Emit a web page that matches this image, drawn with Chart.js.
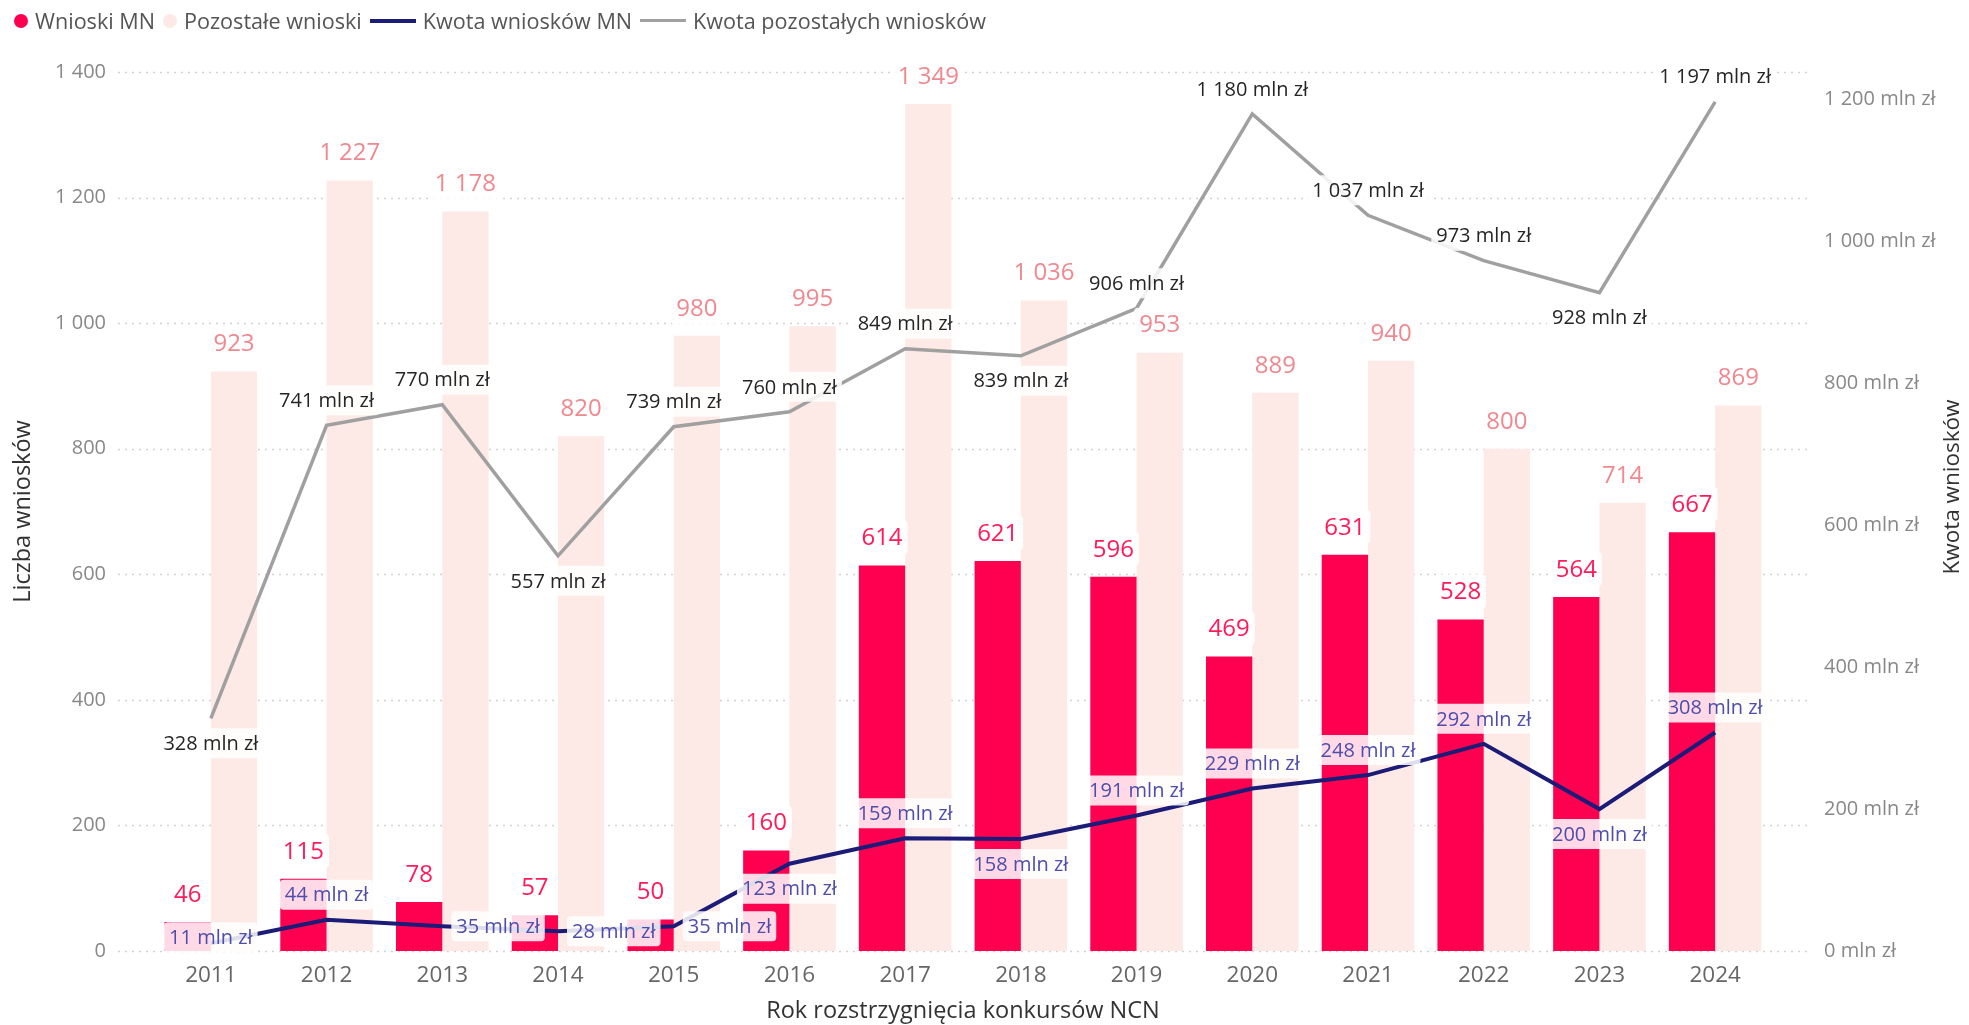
<!DOCTYPE html>
<html lang="pl">

<head>
    <meta charset="UTF-8">
    <title>Wnioski MN</title>
    <style>
        body { margin: 0; background: #fff; }
        .wrap { position: relative; width: 1969px; height: 1025px; }
        .legend {
            position: absolute; left: 14px; top: 6px; display: flex; align-items: center;
            font-family: "Segoe UI", "Open Sans", sans-serif; font-size: 21.6px; color: #555;
        }
        .legend .item { display: flex; align-items: center; margin-right: 8px; }
        .legend .dot { width: 14px; height: 14px; border-radius: 50%; margin-right: 7px; }
        .legend .ln { width: 46px; height: 4px; margin-right: 7px; }
    </style>
</head>

<body>
    <div class="wrap">
        <div class="legend">
            <span class="item"><span class="dot" style="background:#ff0050"></span>Wnioski MN</span>
            <span class="item"><span class="dot" style="background:#fde9e6"></span>Pozostałe wnioski</span>
            <span class="item"><span class="ln" style="background:#1b1b78"></span>Kwota wniosków MN</span>
            <span class="item"><span class="ln" style="background:#a0a0a0;height:3px"></span>Kwota pozostałych wniosków</span>
        </div>
        <canvas id="chart" width="1969" height="1025"></canvas>
    </div>

    <script src="https://cdn.jsdelivr.net/npm/chart.js"></script>
    <script>
        const years = ['2011', '2012', '2013', '2014', '2015', '2016', '2017', '2018', '2019', '2020', '2021', '2022', '2023', '2024'];
        const wnioskiMN = [46, 115, 78, 57, 50, 160, 614, 621, 596, 469, 631, 528, 564, 667];
        const pozostaleWnioski = [923, 1227, 1178, 820, 980, 995, 1349, 1036, 953, 889, 940, 800, 714, 869];
        const kwotaMN = [11, 44, 35, 28, 35, 123, 159, 158, 191, 229, 248, 292, 200, 308];
        const kwotaPozostalych = [328, 741, 770, 557, 739, 760, 849, 839, 906, 1180, 1037, 973, 928, 1197];
        const kwotaTicks = [0, 200, 400, 600, 800, 1000, 1200];

        // where each line label sits relative to its point
        const kwotaMNPos = ['on', 'above', 'right', 'right', 'right', 'below', 'above', 'below', 'above', 'above', 'above', 'above', 'below', 'above'];
        const kwotaPozPos = ['below', 'above', 'above', 'below', 'above', 'above', 'above', 'below', 'above', 'above', 'above', 'above', 'below', 'above'];

        const FONT = '"Segoe UI", "Open Sans", sans-serif';

        function fmt(v) {
            return String(v).replace(/\B(?=(\d{3})+(?!\d))/g, ' ');
        }

        function drawLabel(ctx, text, x, y, color, size, align) {
            ctx.font = size + 'px ' + FONT;
            const w = ctx.measureText(text).width;
            const h = size + 10;
            const left = align === 'left' ? x : x - w / 2;
            ctx.fillStyle = 'rgba(255,255,255,0.85)';
            ctx.beginPath();
            ctx.roundRect(left - 5, y - h / 2, w + 10, h, 4);
            ctx.fill();
            ctx.fillStyle = color;
            ctx.textAlign = 'left';
            ctx.textBaseline = 'middle';
            ctx.fillText(text, left, y + 1);
        }

        const extras = {
            id: 'extras',
            beforeDatasetsDraw(chart) {
                const { ctx, chartArea, scales } = chart;
                const y = scales.y;
                ctx.save();
                ctx.strokeStyle = '#d2d2d2';
                ctx.lineWidth = 1.5;
                ctx.setLineDash([2, 5]);
                y.ticks.forEach((t, i) => {
                    const py = Math.round(y.getPixelForTick(i)) + 0.5;
                    ctx.beginPath();
                    ctx.moveTo(chartArea.left - 35, py);
                    ctx.lineTo(chartArea.right + 35, py);
                    ctx.stroke();
                });
                ctx.restore();
            },
            afterDatasetsDraw(chart) {
                const ctx = chart.ctx;
                ctx.save();
                // bar labels
                chart.getDatasetMeta(0).data.forEach((el, i) => {
                    drawLabel(ctx, fmt(wnioskiMN[i]), el.x, el.y - 28, '#ff1a5a', 24);
                });
                chart.getDatasetMeta(1).data.forEach((el, i) => {
                    drawLabel(ctx, fmt(pozostaleWnioski[i]), el.x, el.y - 28, '#f08890', 24);
                });
                // line labels
                const lineLabels = (idx, values, pos, color) => {
                    chart.getDatasetMeta(idx).data.forEach((el, i) => {
                        const text = fmt(values[i]) + ' mln zł';
                        const p = pos[i];
                        if (p === 'right') drawLabel(ctx, text, el.x + 14, el.y, color, 20, 'left');
                        else if (p === 'below') drawLabel(ctx, text, el.x, el.y + 25, color, 20);
                        else if (p === 'on') drawLabel(ctx, text, el.x, el.y - 6, color, 20);
                        else drawLabel(ctx, text, el.x, el.y - 25, color, 20);
                    });
                };
                lineLabels(3, kwotaPozostalych, kwotaPozPos, '#252525');
                lineLabels(2, kwotaMN, kwotaMNPos, '#4d4dab');

                // right axis title, reading bottom to top
                ctx.font = '22.5px ' + FONT;
                ctx.fillStyle = '#333';
                ctx.textAlign = 'center';
                ctx.textBaseline = 'middle';
                ctx.translate(1953, 487);
                ctx.rotate(-Math.PI / 2);
                ctx.fillText('Kwota wniosków', 0, 0);
                ctx.restore();
            }
        };

        const ctx = document.getElementById('chart').getContext('2d');
        const chart = new Chart(ctx, {
            type: 'bar',
            data: {
                labels: years,
                datasets: [
                    {
                        label: 'Wnioski MN',
                        data: wnioskiMN,
                        backgroundColor: '#ff0050',
                        yAxisID: 'y',
                        order: 2,
                        barPercentage: 1,
                        categoryPercentage: 0.8
                    },
                    {
                        label: 'Pozostałe wnioski',
                        data: pozostaleWnioski,
                        backgroundColor: '#fde9e6',
                        yAxisID: 'y',
                        order: 2,
                        barPercentage: 1,
                        categoryPercentage: 0.8
                    },
                    {
                        type: 'line',
                        label: 'Kwota wniosków MN',
                        data: kwotaMN,
                        borderColor: '#1b1b78',
                        borderWidth: 4,
                        pointRadius: 0,
                        tension: 0,
                        yAxisID: 'y1',
                        order: 0
                    },
                    {
                        type: 'line',
                        label: 'Kwota pozostałych wniosków',
                        data: kwotaPozostalych,
                        borderColor: '#a0a0a0',
                        borderWidth: 3.5,
                        pointRadius: 0,
                        tension: 0,
                        yAxisID: 'y1',
                        order: 1
                    }
                ]
            },
            options: {
                responsive: false,
                animation: false,
                layout: { padding: { top: 72 } },
                plugins: {
                    legend: { display: false },
                    tooltip: { enabled: false }
                },
                scales: {
                    x: {
                        grid: { display: false },
                        border: { display: false },
                        ticks: { color: '#666', font: { family: FONT, size: 22.5 }, padding: 3 },
                        title: {
                            display: true,
                            text: 'Rok rozstrzygnięcia konkursów NCN',
                            color: '#333',
                            font: { family: FONT, size: 23.5 },
                            padding: { top: 0, bottom: 0 }
                        },
                        afterFit: s => { s.height = 74; }
                    },
                    y: {
                        position: 'left',
                        min: 0,
                        max: 1400,
                        grid: { display: false },
                        border: { display: false },
                        ticks: { stepSize: 200, color: '#888', font: { family: FONT, size: 20 }, padding: 39, callback: v => fmt(v) },
                        title: {
                            display: true,
                            text: 'Liczba wniosków',
                            color: '#333',
                            font: { family: FONT, size: 23.5 },
                            padding: { top: 9, bottom: 0 }
                        },
                        afterFit: s => { s.width = 153; }
                    },
                    y1: {
                        position: 'right',
                        min: 0,
                        max: 1239,
                        grid: { display: false },
                        border: { display: false },
                        afterBuildTicks: s => { s.ticks = kwotaTicks.map(v => ({ value: v })); },
                        ticks: { color: '#888', font: { family: FONT, size: 20 }, padding: 43, callback: v => fmt(v) + ' mln zł' },
                        afterFit: s => { s.width = 196; }
                    }
                }
            },
            plugins: [extras]
        });
    </script>
</body>

</html>
